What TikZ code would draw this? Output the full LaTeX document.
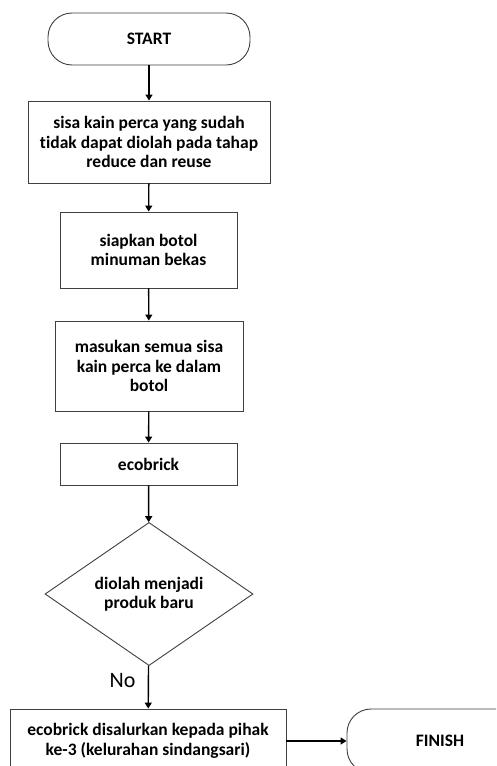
\documentclass[tikz,border=0pt]{standalone}
\usepackage{fontspec}
\setmainfont[Ligatures=NoCommon]{Carlito}
\usetikzlibrary{shapes.geometric,arrows.meta}
\begin{document}
\begin{tikzpicture}[x=1pt,y=-1pt,
  box/.style={draw=black!75,line width=0.9pt,fill=white,align=center,inner sep=2pt,
    font=\fontsize{17.5}{19.5}\selectfont\bfseries},
  term/.style={box,rounded corners=24pt},
  arr/.style={-{Triangle[length=6pt,width=7pt]},line width=1.4pt,black}]
\clip (0,0) rectangle (496,766);
\fill[white] (0,0) rectangle (496,766);
\node[term,minimum width=202pt,minimum height=52pt] (start) at (149,39) {START};
\node[box,minimum width=242pt,minimum height=82pt] (b1) at (149,142)
  {sisa kain perca yang sudah\\tidak dapat diolah pada tahap\\reduce dan reuse};
\node[box,minimum width=177pt,minimum height=76pt] (b2) at (148.5,250)
  {siapkan botol\\minuman bekas};
\node[box,minimum width=188pt,minimum height=90pt] (b3) at (149,366)
  {masukan semua sisa\\kain perca ke dalam\\botol};
\node[box,minimum width=177pt,minimum height=42pt] (b4) at (148.5,464) {ecobrick};
\node[box,diamond,minimum width=208pt,minimum height=142pt,inner sep=0pt] (d) at (149,594)
  {diolah menjadi\\produk baru};
\node[box,minimum width=276pt,minimum height=64pt] (b5) at (148,741)
  {ecobrick disalurkan kepada pihak\\ke-3 (kelurahan sindangsari)};
\node[term,minimum width=186pt,minimum height=64pt] (fin) at (440,741) {FINISH};
\node[font=\fontsize{22}{26}\selectfont] (no) at (122.5,681) {No};
\draw[arr] (start) -- (b1);
\draw[arr] (b1) -- (b2);
\draw[arr] (b2) -- (b3);
\draw[arr] (b3) -- (b4);
\draw[arr] (b4) -- (d);
\draw[arr] (d) -- (b5);
\draw[arr] (b5) -- (fin);
\end{tikzpicture}
\end{document}
